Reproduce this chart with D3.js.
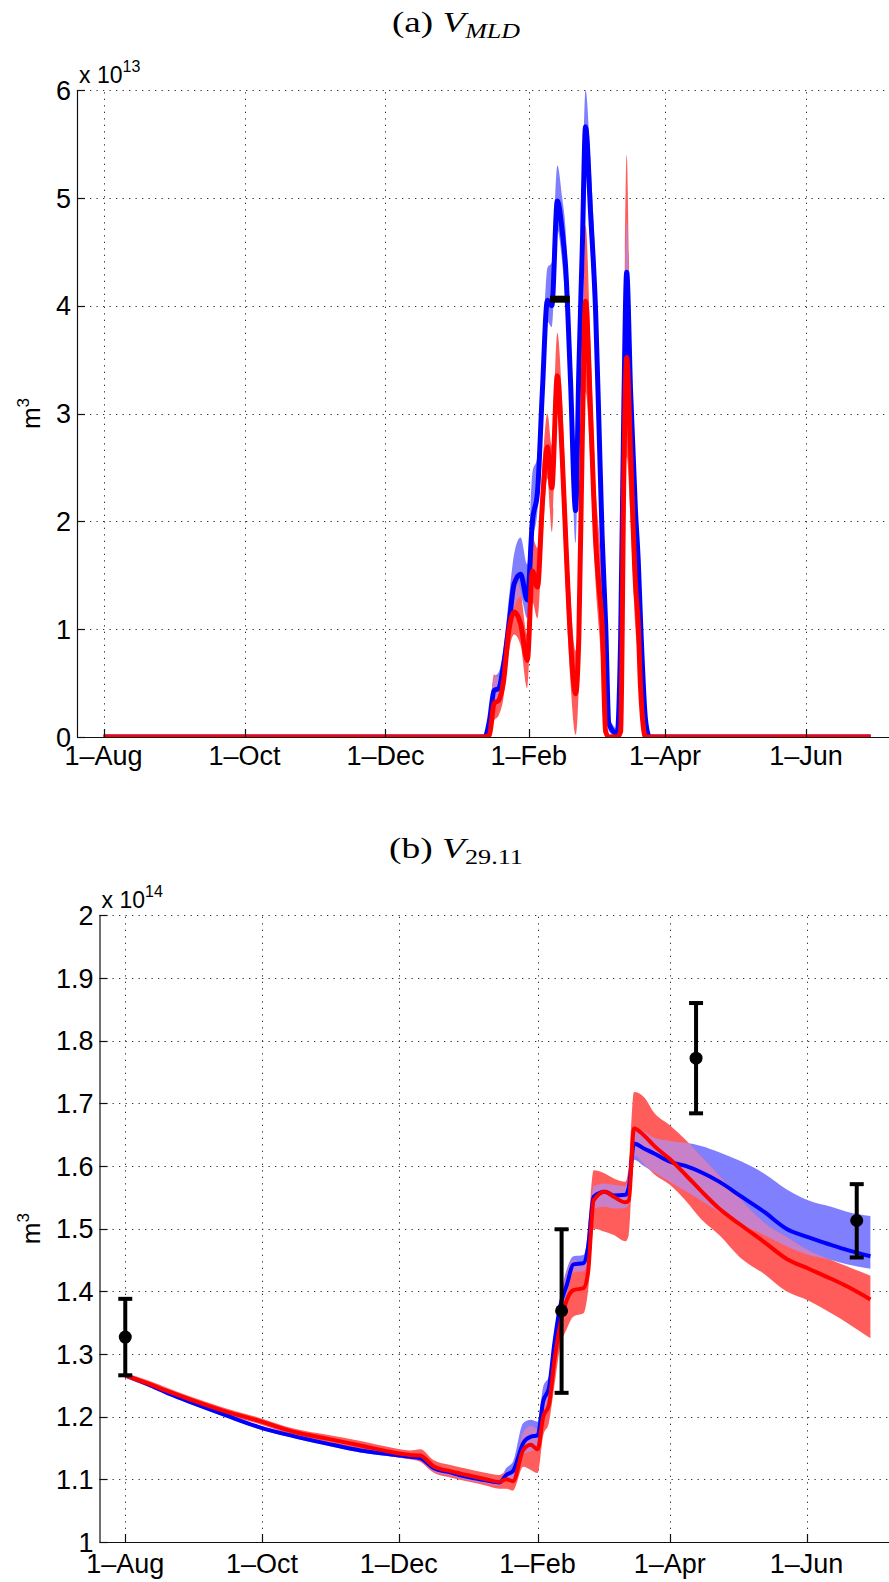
<!DOCTYPE html>
<html><head><meta charset="utf-8">
<script src="https://cdn.jsdelivr.net/npm/d3@7"></script>
<style>body{margin:0;background:#fff}</style>
</head><body><svg id="c" width="889" height="1582" xmlns="http://www.w3.org/2000/svg"></svg>
<script>
// ---------- shared axis data (days since 1 Aug) ----------
const xTickDays = [0, 61, 122, 184, 243, 304];
const xTickLabels = ["1\u2013Aug", "1\u2013Oct", "1\u2013Dec", "1\u2013Feb", "1\u2013Apr", "1\u2013Jun"];
const xDomain = [-11.5, 345];

// ---------- panel (a) V_MLD, units of 1e13 m^3 ----------
const yTicksA = [0, 1, 2, 3, 4, 5, 6];
const daysA = [0,165,167,169,171,173,175.5,177.7,180.5,183.4,185.6,187.8,189.9,192.1,194,196.4,198.5,200,202.1,204.3,205.7,207.2,208.6,210.8,213,214.4,215.8,217.3,218.7,222.3,223.8,225.2,226.4,228.1,230.2,231.4,232.4,234.6,236.3,332];
const blueA   = [0,0,0.15,0.43,0.45,0.65, 1.05,1.42,1.51,1.27,2.0, 2.27,3.2,4.05,4.0,4.97, 4.69,4.35,3.3,2.1,3.4, 4.54,5.66,4.85,3.92,2.9, 1.85,1.05,0.12,0.03,0.93, 3.09,4.31,3.2,2.1,1.64, 1.08,0.15,0,0];
const blueLoA = [0,0,0.05,0.3,0.3,0.5, 0.9,1.2,1.3,1.1,1.8, 2.1,3.0,3.85,3.8,4.7, 4.4,4.0,2.9,1.8,3.1, 4.2,5.3,4.5,3.6,2.6, 1.6,0.85,0.05,0,0.7, 2.8,3.9,2.9,1.8,1.4, 0.9,0.05,0,0];
const blueHiA = [0,0,0.25,0.55,0.6,0.8, 1.3,1.7,1.85,1.6,2.45, 2.6,3.5,4.35,4.4,5.3, 5.0,4.7,3.6,2.6,3.7, 5.0,6.0,5.3,4.3,3.3, 2.2,1.3,0.2,0.08,1.2, 3.4,4.8,3.5,2.4,1.9, 1.3,0.3,0,0];
const redA    = [0,0,0.02,0.31,0.34,0.5, 1.0,1.16,1.05,0.71,1.54, 1.39,2.16,2.69,2.31,3.35, 2.6,1.85,0.9,0.4,0.93, 2.78,4.04,3.0,1.8,1.4, 1.03,0.05,0,0,0.05, 2.47,3.52,2.63,1.42,1.05, 0.46,0,0,0];
const redLoA  = [0,0,0,0.15,0.2,0.35, 0.8,0.95,0.85,0.45,1.25, 1.1,1.8,2.4,1.9,3.0, 2.2,1.4,0.5,0.02,0.5, 2.3,3.2,2.5,1.4,1.0, 0.6,0,0,0,0, 1.8,2.6,2.0,1.0,0.7, 0.2,0,0,0];
const redHiA  = [0,0,0.2,0.58,0.55,0.7, 1.2,1.5,1.35,0.95,1.85, 1.75,2.5,3.0,2.7,3.75, 3.1,2.3,1.3,0.8,1.4, 3.4,4.75,3.6,2.3,1.9, 1.45,0.2,0.02,0.02,0.4, 3.6,5.4,3.4,1.9,1.5, 0.8,0.1,0,0];
const obsBarDaysA = [193.2, 201.8];
const obsBarValueA = 4.06;

// ---------- panel (b) V_29.11, units of 1e14 m^3 ----------
const yTicksB = [1, 1.1, 1.2, 1.3, 1.4, 1.5, 1.6, 1.7, 1.8, 1.9, 2];
const daysB = [0,10,20,30,45,60,75,90,105,118,127,131.6,137.5,145,152.4,160,167,170,173,177.6,181,184,186.5,189,191.5,194,197,200,204.5,206.5,209,214,218,223.2,224.7,227,231.4,236,243,250,257,265,275,285,295,305,315,322,332.5];
const blueB   = [1.266,1.252,1.236,1.222,1.202,1.183,1.169,1.157,1.146,1.140,1.136, 1.134,1.118,1.111,1.104,1.099, 1.095,1.107,1.113,1.158,1.168, 1.170,1.225,1.245,1.318,1.375, 1.41,1.443,1.445,1.47,1.551, 1.559,1.553,1.554,1.566,1.636, 1.628,1.620,1.607,1.600,1.590, 1.575,1.551,1.527,1.500,1.486, 1.474,1.466,1.456];
const blueLoB = [1.263,1.249,1.233,1.219,1.199,1.180,1.166,1.154,1.143,1.137,1.133, 1.131,1.113,1.106,1.099,1.094, 1.090,1.098,1.100,1.14,1.145, 1.150,1.205,1.228,1.30,1.355, 1.395,1.43,1.432,1.45,1.532, 1.535,1.532,1.533,1.54,1.61, 1.60,1.59,1.575,1.56,1.545, 1.527,1.507,1.49,1.472,1.458, 1.45,1.443,1.436];
const blueHiB = [1.269,1.255,1.239,1.225,1.205,1.186,1.172,1.160,1.149,1.143,1.139, 1.137,1.123,1.116,1.109,1.104, 1.100,1.118,1.128,1.19,1.195, 1.192,1.248,1.265,1.335,1.39, 1.435,1.456,1.458,1.49,1.568, 1.572,1.570,1.568,1.585,1.66, 1.655,1.645,1.640,1.637,1.632, 1.622,1.607,1.588,1.563,1.545, 1.535,1.527,1.520];
const redB    = [1.266,1.253,1.239,1.226,1.208,1.193,1.176,1.165,1.154,1.144,1.139, 1.138,1.121,1.113,1.107,1.101, 1.096,1.100,1.097,1.147,1.155, 1.148,1.200,1.218,1.290,1.345, 1.386,1.402,1.405,1.43,1.545, 1.559,1.551,1.542,1.545,1.660, 1.649,1.632,1.611,1.586,1.560, 1.532,1.505,1.479,1.452,1.436, 1.420,1.408,1.387];
const redLoB  = [1.262,1.248,1.234,1.221,1.203,1.188,1.171,1.159,1.147,1.137,1.132, 1.128,1.111,1.103,1.097,1.091, 1.085,1.085,1.082,1.12,1.115, 1.11,1.17,1.19,1.25,1.31, 1.34,1.36,1.365,1.40,1.50, 1.495,1.49,1.48,1.49,1.617, 1.603,1.587,1.57,1.545,1.515, 1.49,1.452,1.428,1.40,1.385, 1.365,1.35,1.325];
const redHiB  = [1.270,1.258,1.244,1.231,1.213,1.198,1.181,1.171,1.161,1.151,1.146, 1.148,1.131,1.123,1.117,1.111, 1.107,1.112,1.112,1.175,1.185, 1.18,1.225,1.245,1.32,1.38, 1.43,1.45,1.445,1.50,1.593, 1.588,1.58,1.575,1.60,1.718, 1.71,1.685,1.665,1.642,1.615, 1.585,1.545,1.51,1.487,1.465, 1.45,1.44,1.425];
const obsDaysB = [0, 194.7, 254.7, 326.4];
const obsMeanB = [1.327, 1.369, 1.772, 1.513];
const obsLoB   = [1.266, 1.238, 1.684, 1.454];
const obsHiB   = [1.388, 1.499, 1.860, 1.571];

// ---------- drawing ----------
const W = 889, H = 1582;
const svg = d3.select("#c");
svg.append("rect").attr("width", W).attr("height", H).attr("fill", "#fff");
const defs = svg.append("defs");
const COL = {blueBand: "#8080ff", redBand: "#ff5c5c", overlap: "#c880c8", blue: "#0000ff", red: "#ff0000"};
const tickFont = "'Liberation Sans', Arial, Helvetica, sans-serif";
const serif = "'Liberation Serif', 'DejaVu Serif', serif";

function drawPanel(o) {
  const x = d3.scaleLinear().domain(xDomain)
    .range([o.left, o.left + (xDomain[1] - xDomain[0]) * o.pxDay]);
  const y = d3.scaleLinear().domain([o.yTicks[0], o.yTicks[o.yTicks.length - 1]]).range([o.bottom, o.top]);
  const right = W;
  const g = svg.append("g");

  defs.append("clipPath").attr("id", o.id + "plot").append("rect")
    .attr("x", o.left).attr("y", o.top - 2).attr("width", right - o.left).attr("height", o.bottom - o.top + 2);

  // grid
  const grid = g.append("g").attr("stroke", "#333").attr("stroke-width", 1).attr("stroke-dasharray", "1.3,5.2");
  o.yTicks.slice(1).forEach(v => grid.append("line")
    .attr("x1", o.left).attr("x2", right).attr("y1", Math.round(y(v)) + 0.5).attr("y2", Math.round(y(v)) + 0.5));
  xTickDays.forEach(d => grid.append("line")
    .attr("x1", Math.round(x(d)) + 0.5).attr("x2", Math.round(x(d)) + 0.5).attr("y1", o.bottom).attr("y2", o.top));

  const plot = g.append("g").attr("clip-path", `url(#${o.id}plot)`);
  const rows = (lo, hi) => o.days.map((d, i) => ({d, lo: lo[i], hi: hi[i]}));
  const area = d3.area().curve(d3.curveMonotoneX).x(p => x(p.d)).y0(p => y(p.lo)).y1(p => y(p.hi));
  const blueBand = rows(o.blueLo, o.blueHi), redBand = rows(o.redLo, o.redHi);

  defs.append("clipPath").attr("id", o.id + "blueband").append("path").attr("d", area(blueBand));
  plot.append("path").attr("d", area(blueBand)).attr("fill", COL.blueBand);
  plot.append("path").attr("d", area(redBand)).attr("fill", COL.redBand);
  plot.append("g").attr("clip-path", `url(#${o.id}blueband)`)
    .append("path").attr("d", area(redBand)).attr("fill", COL.overlap);

  const line = d3.line().curve(d3.curveMonotoneX).x(p => x(p.d)).y(p => y(p.v));
  const series = vals => o.days.map((d, i) => ({d, v: vals[i]}));
  plot.append("path").attr("d", line(series(o.blue))).attr("fill", "none")
    .attr("stroke", COL.blue).attr("stroke-width", o.lw).attr("stroke-linejoin", "round");
  plot.append("path").attr("d", line(series(o.red))).attr("fill", "none")
    .attr("stroke", COL.red).attr("stroke-width", o.lw).attr("stroke-linejoin", "round");

  if (o.extra) o.extra(plot, x, y);

  // axes
  const ax = g.append("g").attr("stroke", "#111").attr("stroke-width", 1.2);
  ax.append("line").attr("x1", o.left + 0.5).attr("x2", o.left + 0.5).attr("y1", o.top).attr("y2", o.bottom);
  ax.append("line").attr("x1", o.left).attr("x2", right).attr("y1", o.bottom + 0.5).attr("y2", o.bottom + 0.5);
  o.yTicks.forEach(v => ax.append("line").attr("x1", o.left).attr("x2", o.left + 8)
    .attr("y1", Math.round(y(v)) + 0.5).attr("y2", Math.round(y(v)) + 0.5));
  xTickDays.forEach(d => ax.append("line").attr("x1", Math.round(x(d)) + 0.5).attr("x2", Math.round(x(d)) + 0.5)
    .attr("y1", o.bottom).attr("y2", o.bottom - 8));

  // tick labels
  const tl = g.append("g").attr("font-family", tickFont).attr("font-size", 27).attr("fill", "#000");
  o.yTicks.forEach(v => tl.append("text").attr("x", o.left - 6).attr("y", y(v)).attr("dy", "0.36em")
    .attr("text-anchor", "end").text(o.yFmt(v)));
  xTickDays.forEach((d, i) => tl.append("text").attr("x", x(d)).attr("y", o.bottom + o.xLabelGap)
    .attr("text-anchor", "middle").text(xTickLabels[i]));

  // exponent label
  const ex = g.append("text").attr("x", o.left + 2).attr("y", o.top - 7)
    .attr("font-family", tickFont).attr("font-size", 23).attr("fill", "#000");
  ex.append("tspan").text("x 10");
  ex.append("tspan").attr("font-size", 16).attr("dy", -11).text(o.exponent);

  // y label
  const yl = g.append("text").attr("transform", `translate(40,${(o.top + o.bottom) / 2}) rotate(-90)`)
    .attr("text-anchor", "middle").attr("font-family", tickFont).attr("font-size", 26).attr("fill", "#000");
  yl.append("tspan").text("m");
  yl.append("tspan").attr("font-size", 17).attr("dy", -11).text("3");

  // title (LaTeX-style caption)
  const t = g.append("text").attr("x", o.titleX - o.titleW / 2).attr("y", o.titleY)
    .attr("font-family", serif).attr("font-size", 30).attr("fill", "#000")
    .attr("textLength", o.titleW).attr("lengthAdjust", "spacingAndGlyphs");
  t.append("tspan").text("(" + o.letter + ") ");
  t.append("tspan").attr("font-style", "italic").text("V");
  t.append("tspan").attr("font-size", 21).attr("dy", 6).attr("font-style", o.subItalic ? "italic" : "normal").text(o.sub);
}

drawPanel({
  id: "a", left: 77, pxDay: 2.3105, top: 90, bottom: 737, lw: 5, xLabelGap: 28,
  yTicks: yTicksA, yFmt: v => String(v), exponent: "13",
  days: daysA, blue: blueA, blueLo: blueLoA, blueHi: blueHiA, red: redA, redLo: redLoA, redHi: redHiA,
  titleX: 456, titleW: 128, titleY: 32, letter: "a", sub: "MLD", subItalic: true,
  extra: (plot, x, y) => {
    plot.append("line").attr("x1", x(obsBarDaysA[0])).attr("x2", x(obsBarDaysA[1]))
      .attr("y1", y(obsBarValueA)).attr("y2", y(obsBarValueA))
      .attr("stroke", "#000").attr("stroke-width", 7);
  }
});

drawPanel({
  id: "b", left: 99.5, pxDay: 2.241, top: 915.3, bottom: 1542, lw: 4, xLabelGap: 31,
  yTicks: yTicksB, yFmt: v => d3.format("~g")(v), exponent: "14",
  days: daysB, blue: blueB, blueLo: blueLoB, blueHi: blueHiB, red: redB, redLo: redLoB, redHi: redHiB,
  titleX: 456, titleW: 134, titleY: 858, letter: "b", sub: "29.11", subItalic: false,
  extra: (plot, x, y) => {
    const eb = svg.append("g").attr("stroke", "#000").attr("stroke-width", 4);
    obsDaysB.forEach((d, i) => {
      const cx = x(d);
      eb.append("line").attr("x1", cx).attr("x2", cx).attr("y1", y(obsLoB[i])).attr("y2", y(obsHiB[i]));
      eb.append("line").attr("x1", cx - 7).attr("x2", cx + 7).attr("y1", y(obsLoB[i])).attr("y2", y(obsLoB[i]));
      eb.append("line").attr("x1", cx - 7).attr("x2", cx + 7).attr("y1", y(obsHiB[i])).attr("y2", y(obsHiB[i]));
      eb.append("circle").attr("cx", cx).attr("cy", y(obsMeanB[i])).attr("r", 6.5).attr("fill", "#000").attr("stroke", "none");
    });
  }
});
</script>
</body></html>
